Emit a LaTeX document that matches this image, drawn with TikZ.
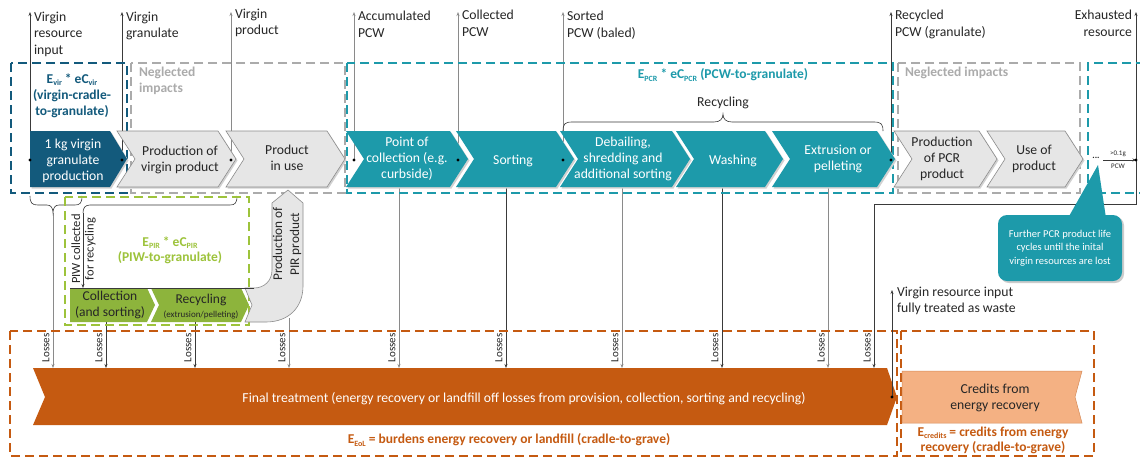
\documentclass[tikz,border=0pt]{standalone}
\usepackage{fontspec}
\setmainfont{Carlito}
\usetikzlibrary{arrows.meta}
\definecolor{cdblue}{HTML}{135A7C}
\definecolor{cteal}{HTML}{1D9AAA}
\definecolor{cgrayf}{HTML}{E6E6E6}
\definecolor{cgrayd}{HTML}{8C8C8C}
\definecolor{cgraydash}{HTML}{ABABAB}
\definecolor{cgreen}{HTML}{8DB43C}
\definecolor{cgreendash}{HTML}{9DC33B}
\definecolor{corange}{HTML}{C55A11}
\definecolor{clorange}{HTML}{F4B183}
\definecolor{cline}{HTML}{3A3A3A}
\definecolor{clinel}{HTML}{8A8A8A}
\definecolor{ctext}{HTML}{262626}
\newcommand\sbs[1]{\raisebox{-0.35ex}{\fontsize{8}{8}\selectfont #1}}
\newcommand\chev[3]{%
  \path[shad] ({#2+1.5},132.5) -- ({#3-18+1.5},132.5) -- ({#3+1.5},160.5) -- ({#3-18+1.5},188.5) -- ({#2+1.5},188.5) -- ({#2+18+1.5},160.5) -- cycle;
  \path[#1] (#2,131) -- ({#3-18},131) -- (#3,159) -- ({#3-18},187) -- (#2,187) -- ({#2+18},159) -- cycle;}
\begin{document}
\begin{tikzpicture}[x=1pt,y=-1pt,
  every node/.style={inner sep=0pt, outer sep=0pt},
  txt/.style={font=\fontsize{13.7}{15.8}\selectfont, align=center},
  toplab/.style={font=\fontsize{13.7}{16.5}\selectfont, align=left, anchor=north west, text=ctext},
  dashbox/.style={dash pattern=on 9pt off 5pt, line width=2.4pt},
  upline/.style={line width=0.6pt, -{Stealth[length=4pt,width=3pt]}},
  lossline/.style={line width=0.6pt, -{Stealth[length=4pt,width=3pt]}},
  losslab/.style={rotate=90, font=\fontsize{11}{11}\selectfont, text=ctext},
  tealc/.style={fill=cteal},
  grayc/.style={fill=cgrayf, draw=cgrayd, line width=0.6pt},
  shad/.style={fill=black!18},
  bracest/.style={draw=cline, line width=0.6pt},
  lbl/.style={font=\bfseries\fontsize{13.5}{16}\selectfont, align=center},
]
\useasboundingbox (0,0) rectangle (1140,459);
\fill[white] (0,0) rectangle (1140,459);

% ---------- top label lines ----------
\coordinate (top) at (0,12);
\coordinate (d1) at (30,160);
\coordinate (d2) at (122,160);
\coordinate (d3) at (231,160);
\coordinate (d4) at (354,160);
\coordinate (d5) at (458,160);
\coordinate (d6) at (563,160);
\coordinate (d7) at (891,160);
\coordinate (d8) at (1136,160);
\foreach \c/\col in {d1/cline,d2/cline,d3/clinel,d4/clinel,d5/clinel,d6/clinel,d7/cline,d8/cline}
  \draw[upline,draw=\col] (\c) -- (\c |- top);

\node[toplab] (t1) at (34,12) {Virgin\\resource\\input};
\node[toplab] (t2) at (126,12) {Virgin\\granulate};
\node[toplab] (t3) at (235,9) {Virgin\\product};
\node[toplab] (t4) at (358,11) {Accumulated\\PCW};
\node[toplab] (t5) at (462,10) {Collected\\PCW};
\node[toplab] (t6) at (567,11) {Sorted\\PCW (baled)};
\node[toplab] (t7) at (895,10) {Recycled\\PCW (granulate)};
\node[toplab,anchor=north east,align=right] (t8) at (1132,10) {Exhausted\\resource};

% ---------- losses lines ----------
\coordinate (fttop) at (0,368);
\foreach \n/\x/\y/\col in {1/53/213/clinel,2/106/322/cline,3/195/322/cline,4/289/318/clinel,5/399/187/clinel,6/506/187/cline,7/622/187/clinel,8/722/187/cline,9/828/187/clinel}{
  \coordinate (s\n) at (\x,\y);
  \draw[lossline,draw=\col] (s\n) -- (s\n |- fttop);
  \node[losslab] (ll\n) at (\x-7,348) {Losses};
}
\coordinate (s10) at (874,204);
\draw[lossline,draw=cline] (d8) -- (d8 |- s10) -- (s10) -- (s10 |- fttop);
\node[losslab] (ll10) at (867,348) {Losses};

% PIW collected arrow
\coordinate (b2) at (83,213);
\coordinate (colTop) at (83,288);
\draw[lossline,draw=cline] (b2) -- (colTop);
\node[rotate=90, font=\fontsize{12.5}{13.5}\selectfont, align=center, text=ctext] (piw) at (83.5,249) {PIW collected\\for recycling};

% braces
\draw[bracest] (30,196) .. controls (30,203) and (32,205) .. (38,205) -- (47,205) .. controls (51,205) and (53,208) .. (53,213) .. controls (53,208) and (55,205) .. (59,205) -- (75,205) .. controls (80,205) and (82,203) .. (82,196);
\draw[bracest] (83,213) .. controls (83,208) and (85,205) .. (90,205) -- (230,205) .. controls (235,205) and (237,203) .. (237,196);
\draw[bracest] (563,131) .. controls (563,124) and (565,122) .. (572,122) -- (714,122) .. controls (720,122) and (723,119) .. (723,114) .. controls (723,119) and (726,122) .. (732,122) -- (874,122) .. controls (881,122) and (883,124) .. (883,131);
\node[font=\fontsize{13.7}{14}\selectfont, text=ctext] (rec) at (723,103) {Recycling};

% ---------- dashed boxes ----------
\draw[dashbox, draw=cgraydash] (131,63) rectangle (345,193);
\draw[dashbox, draw=cgraydash] (898,63) rectangle (1080,193);
\draw[dashbox, draw=cteal] (347,63) rectangle (893,193);
\draw[dashbox, draw=cteal] (1145,63) -- (1088,63) -- (1088,193) -- (1145,193);
\draw[dashbox, draw=cdblue] (11,63) rectangle (127,193);
\draw[dashbox, draw=cgreendash] (65,197) rectangle (249,325);
\draw[dashbox, draw=corange] (10,331) rectangle (897,456);
\draw[dashbox, draw=corange] (901,331) rectangle (1094,456);

% ---------- top chevrons ----------
\path[shad] (31.5,132.5) -- (111.5,132.5) -- (128.5,160.5) -- (111.5,188.5) -- (31.5,188.5) -- cycle;
\path[fill=cdblue] (30,131) -- (110,131) -- (127,159) -- (110,187) -- (30,187) -- cycle;
\chev{grayc}{117}{236}
\chev{grayc}{226}{345}
\chev{tealc}{346}{468}
\chev{tealc}{456}{574}
\chev{tealc}{560}{690}
\chev{tealc}{676}{783}
\chev{tealc}{772}{895}
\chev{grayc}{894}{997}
\chev{grayc}{987}{1083}

\node[txt, text=white] (n1) at (73,161) {1 kg virgin\\granulate\\production};
\node[txt, text=ctext] (n2) at (180,160) {Production of\\virgin product};
\node[txt, text=ctext] (n3) at (287,158) {Product\\in use};
\node[txt, text=white] (n4) at (407,159) {Point of\\collection (e.g.\\curbside)};
\node[txt, text=white] (n5) at (513,161) {Sorting};
\node[txt, text=white] (n6) at (623,159) {Debailing,\\shredding and\\additional sorting};
\node[txt, text=white] (n7) at (733,161) {Washing};
\node[txt, text=white] (n8) at (838,159) {Extrusion or\\pelleting};
\node[txt, text=ctext] (n9) at (942,159) {Production\\of PCR\\product};
\node[txt, text=ctext] (n10) at (1034,159) {Use of\\product};

\foreach \c in {d1,d2,d3,d4,d5,d6,d7} \fill[black] (\c) circle (1.7pt);

% ---------- dashed box labels ----------
\node[lbl, text=cdblue] (evir) at (72,96) {E\sbs{vir} * eC\sbs{vir}\\(virgin-cradle-\\to-granulate)};
\node[lbl, text=cgraydash, align=left, anchor=north west] (neg1) at (139,67) {Neglected\\impacts};
\node[lbl, text=cgraydash, anchor=north west] (neg2) at (905,67) {Neglected impacts};
\node[lbl, text=cteal] (epcr) at (723,75) {E\sbs{PCR} * eC\sbs{PCR} (PCW-to-granulate)};
\node[lbl, text=cgreendash, font=\bfseries\fontsize{13.5}{15}\selectfont] (epir) at (170,250) {E\sbs{PIR} * eC\sbs{PIR}\\(PIW-to-granulate)};

% ---------- PIR boxes ----------
\path[fill=cgrayf, draw=cgrayd, line width=0.6pt] (245,322) -- (266,322) .. controls (288,322) and (303,308) .. (303,286) -- (303,203) -- (288,190) -- (272,203) -- (272,270) .. controls (272,281) and (264,288) .. (254,288) -- (245,288) -- (252,305) -- cycle;
\node[rotate=90, txt, font=\fontsize{13.3}{17}\selectfont, text=ctext] (npir) at (287,244) {Production of\\PIR product};
\path[fill=cgreen] (70,288) -- (147,288) -- (155,305) -- (147,322) -- (70,322) -- cycle;
\path[fill=cgreen] (151,288) -- (241,288) -- (249,305) -- (241,322) -- (151,322) -- (159,305) -- cycle;
\draw[cline, line width=0.6pt] (70,288) -- (254,288);
\node[txt, font=\fontsize{13.5}{15.5}\selectfont, text=ctext] (ncol) at (110,305) {Collection\\(and sorting)};
\node[font=\fontsize{13.5}{14}\selectfont, text=ctext] (nrec) at (201,300) {Recycling};
\node[font=\fontsize{9}{9}\selectfont, text=ctext] (nrec2) at (201,315) {(extrusion/pelleting)};

% ---------- exhausted / callout ----------
\node[font=\bfseries\fontsize{9}{9}\selectfont, text=ctext] (dots) at (1096,158) {...};
\coordinate (ar0) at (1103,160);
\draw[line width=0.6pt, -{Stealth[length=3.5pt,width=3pt]}, draw=cline] (ar0) -- (d8);
\fill[black] (d8) circle (1.7pt);
\node[font=\fontsize{7}{7}\selectfont, text=ctext] (g01) at (1118,154) {>0.1g};
\node[font=\fontsize{7}{7}\selectfont, text=ctext] (pcw) at (1118,166) {PCW};

\path[fill=black!20, rounded corners=9pt] (1000,216.5) rectangle (1124,283);
\path[fill=cteal] (1068,218) -- (1098,165) -- (1106,218) -- cycle;
\path[fill=cteal, rounded corners=9pt] (998,215) rectangle (1122,281);
\node[align=center, font=\fontsize{10.5}{13.5}\selectfont, text=white] (call) at (1060,248) {Further PCR product life\\cycles until the inital\\virgin resources are lost};

% ---------- bottom ----------
\path[fill=corange] (33,368) -- (887,368) -- (897,397) -- (887,425) -- (33,425) -- (45,397) -- cycle;
\node[txt, text=white] (nft) at (524,399) {Final treatment (energy recovery or landfill off losses from provision, collection, sorting and recycling)};
\path[fill=clorange, draw=corange!70, line width=0.5pt] (902,371) -- (1082,371) -- (1075,397) -- (1082,423) -- (902,423) -- cycle;
\node[txt, text=ctext] (ncred) at (995,398) {Credits from\\energy recovery};
\node[lbl, text=corange] (eeol) at (509,440) {E\sbs{EoL} = burdens energy recovery or landfill (cradle-to-grave)};
\node[lbl, text=corange, font=\bfseries\fontsize{13.5}{15}\selectfont] (ecred) at (993,440) {E\sbs{credits} = credits from energy\\recovery (cradle-to-grave)};

\coordinate (vw) at (892,397);
\draw[upline, draw=cline] (vw) -- (892,290);
\fill[black] (vw) circle (1.7pt);
\node[toplab, font=\fontsize{13.7}{16.5}\selectfont] (vwl) at (897,287) {Virgin resource input\\fully treated as waste};
\end{tikzpicture}
\end{document}
